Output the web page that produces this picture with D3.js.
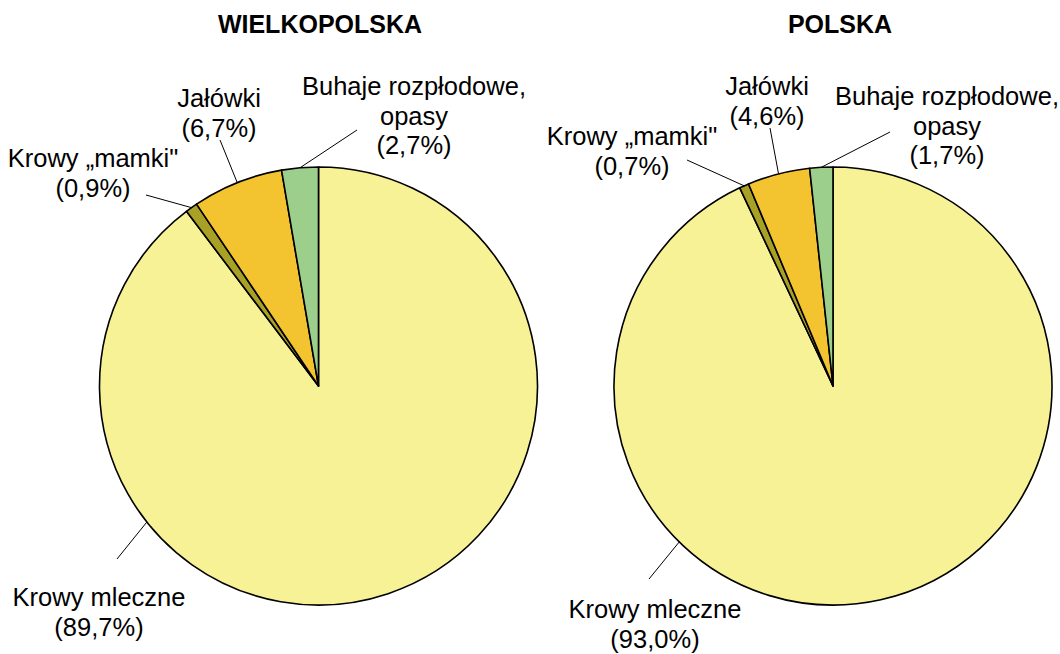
<!DOCTYPE html>
<html>
<head>
<meta charset="utf-8">
<script src="https://cdn.jsdelivr.net/npm/d3@7"></script>
<style>
  body { margin: 0; background: #fff; }
  text { font-family: "Liberation Sans", Arial, sans-serif; fill: #000; }
  .title { font-weight: bold; font-size: 25px; }
  .label { font-size: 25.5px; }
</style>
</head>
<body>
<script>
// data
var regions = ["WIELKOPOLSKA", "POLSKA"];
var categories = ["Krowy mleczne", "Krowy „mamki\"", "Jałówki", "Buhaje rozpłodowe,\nopasy"];
var wielkopolskaValues = [89.7, 0.9, 6.7, 2.7];
var polskaValues = [93.0, 0.7, 4.6, 1.7];
var sliceColors = ["#f8f296", "#a9a126", "#f4c430", "#9dcf8c"];

// layout (label centre / first baseline, leader end, leader angle on rim)
var layouts = [
  { cx: 318.5, cy: 386, titleX: 320, titleY: 33,
    labels: [
      { x: 99,  y: 606, end: [117, 559], angle: 231.6 },
      { x: 93,  y: 167, end: [146, 195], angle: null },
      { x: 219, y: 107, end: [220, 140], angle: null },
      { x: 414, y: 95,  end: [357, 130], angle: null }
    ] },
  { cx: 833, cy: 386, titleX: 840, titleY: 33,
    labels: [
      { x: 655, y: 618, end: [649, 579], angle: 224.6 },
      { x: 632, y: 145, end: [687, 160], angle: null },
      { x: 767, y: 95,  end: [770, 128], angle: null },
      { x: 947, y: 105, end: [890, 132], angle: null }
    ] }
];
var radius = 219;
var lineHeight = 29.5;

var width = 1060, height = 654;

var svg = d3.select("body").append("svg")
    .attr("width", width)
    .attr("height", height);

var color = d3.scaleOrdinal().domain(categories).range(sliceColors);

var pie = d3.pie().sort(null);
var arc = d3.arc().innerRadius(0).outerRadius(radius);

var fmt = function(v) { return "(" + d3.format(".1f")(v).replace(".", ",") + "%)"; };

[wielkopolskaValues, polskaValues].forEach(function(values, k) {
  var lay = layouts[k];

  svg.append("text")
      .attr("class", "title")
      .attr("x", lay.titleX)
      .attr("y", lay.titleY)
      .attr("text-anchor", "middle")
      .text(regions[k]);

  var g = svg.append("g")
      .attr("transform", "translate(" + lay.cx + "," + lay.cy + ")");

  var arcs = pie(values);

  g.selectAll("path.slice")
      .data(arcs)
    .enter().append("path")
      .attr("class", "slice")
      .attr("d", arc)
      .style("fill", function(d, i) { return color(categories[i]); })
      .style("stroke", "#000")
      .style("stroke-width", 1.6)
      .style("stroke-linejoin", "round");

  // leader lines
  arcs.forEach(function(d, i) {
    var lab = lay.labels[i];
    var a = lab.angle === null ? (d.startAngle + d.endAngle) / 2 : lab.angle * Math.PI / 180;
    var p = d3.pointRadial(a, radius);
    svg.append("line")
        .attr("x1", lay.cx + p[0])
        .attr("y1", lay.cy + p[1])
        .attr("x2", lab.end[0])
        .attr("y2", lab.end[1])
        .style("stroke", "#000")
        .style("stroke-width", 1);
  });

  // labels
  categories.forEach(function(c, i) {
    var lab = lay.labels[i];
    var lines = c.split("\n").concat([fmt(values[i])]);
    var t = svg.append("text")
        .attr("class", "label")
        .attr("text-anchor", "middle");
    lines.forEach(function(s, j) {
      t.append("tspan")
          .attr("x", lab.x)
          .attr("y", lab.y + j * lineHeight)
          .text(s);
    });
  });
});
</script>
</body>
</html>
